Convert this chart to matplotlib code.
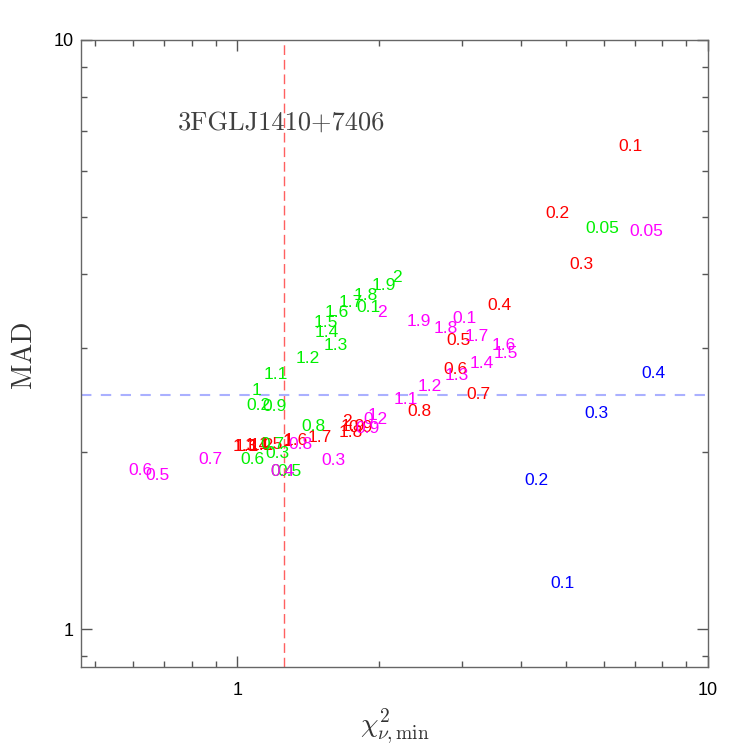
import numpy as np
import matplotlib
matplotlib.use("Agg")
import matplotlib.pyplot as plt
from matplotlib.ticker import FixedLocator, FixedFormatter, NullFormatter

# labelled points (chi2_min, MAD) for each run, label = parameter value
red_labels = ["0.1", "0.2", "0.3", "0.4", "0.5", "0.6", "0.7", "0.8", "0.9", "1",
              "1.1", "1.2", "1.3", "1.4", "1.5", "1.6", "1.7", "1.8", "1.9", "2"]
red_x = [6.86, 4.80, 5.39, 3.61, 2.95, 2.91, 3.26, 2.44, 1.83, 1.28,
         1.05, 1.13, 1.04, 1.10, 1.18, 1.33, 1.50, 1.74, 1.76, 1.71]
red_y = [6.63, 5.10, 4.19, 3.56, 3.11, 2.77, 2.52, 2.35, 2.21, 2.09,
         2.05, 2.06, 2.05, 2.06, 2.07, 2.10, 2.13, 2.17, 2.22, 2.26]

green_labels = ["0.05", "0.1", "0.2", "0.3", "0.4", "0.5", "0.6", "0.7", "0.8", "0.9", "1",
                "1.1", "1.2", "1.3", "1.4", "1.5", "1.6", "1.7", "1.8", "1.9", "2"]
green_x = [5.95, 1.90, 1.11, 1.22, 1.25, 1.29, 1.08, 1.19, 1.45, 1.20, 1.10,
           1.21, 1.41, 1.62, 1.55, 1.54, 1.63, 1.74, 1.88, 2.05, 2.18]
green_y = [4.81, 3.53, 2.41, 2.00, 1.86, 1.86, 1.95, 2.07, 2.22, 2.40, 2.56,
           2.72, 2.90, 3.05, 3.20, 3.33, 3.47, 3.60, 3.71, 3.85, 3.97]

magenta_labels = ["0.05", "0.1", "0.2", "0.3", "0.4", "0.5", "0.6", "0.7", "0.8", "0.9", "1",
                  "1.1", "1.2", "1.3", "1.4", "1.5", "1.6", "1.7", "1.8", "1.9", "2"]
magenta_x = [7.38, 3.04, 1.97, 1.60, 1.25, 0.679, 0.622, 0.876, 1.36, 1.89, 1.94,
             2.28, 2.57, 2.92, 3.31, 3.72, 3.68, 3.22, 2.77, 2.43, 2.03]
magenta_y = [4.75, 3.39, 2.28, 1.94, 1.86, 1.83, 1.87, 1.95, 2.07, 2.20, 2.32,
             2.47, 2.60, 2.71, 2.84, 2.95, 3.05, 3.16, 3.26, 3.35, 3.46]

blue_labels = ["0.1", "0.2", "0.3", "0.4"]
blue_x = [4.92, 4.33, 5.80, 7.67]
blue_y = [1.20, 1.80, 2.34, 2.73]

chi2_cut = 1.26
mad_cut = 2.5
source = "3FGLJ1410+7406"

plt.rcParams["mathtext.fontset"] = "cm"

fig = plt.figure(figsize=(7.47, 7.47), dpi=100)
ax = fig.add_axes([81/747, 80/747, 627/747, 627/747])
ax.set_xscale("log")
ax.set_yscale("log")
ax.set_xlim(0.466, 10)
ax.set_ylim(0.862, 10)

series = [
    (red_labels, red_x, red_y, "#ff0000"),
    (green_labels, green_x, green_y, "#00f000"),
    (magenta_labels, magenta_x, magenta_y, "#ff00ff"),
    (blue_labels, blue_x, blue_y, "#0000ff"),
]
for labels, xs, ys, col in series:
    for lab, x, y in zip(labels, xs, ys):
        ax.text(x, y, lab, color=col, fontsize=12.5, family="Liberation Sans",
                ha="center", va="center_baseline")

ax.axvline(chi2_cut, color="#ff6060", lw=1, dashes=(7, 3.5))
ax.axhline(mad_cut, color="#aab0ff", lw=1.5, dashes=(5, 4.5))

ax.text(0.32, 0.868, source, transform=ax.transAxes, family="cmr10",
        fontsize=19, color="#404040", ha="center", va="center")

# ticks
for axis in (ax.xaxis, ax.yaxis):
    axis.set_major_locator(FixedLocator([1, 10]))
    axis.set_major_formatter(FixedFormatter(["1", "10"]))
    axis.set_minor_formatter(NullFormatter())
ax.xaxis.set_minor_locator(FixedLocator([0.5, 0.6, 0.7, 0.8, 0.9, 2, 3, 4, 5, 6, 7, 8, 9]))
ax.yaxis.set_minor_locator(FixedLocator([0.9, 2, 3, 4, 5, 6, 7, 8, 9]))

ax.tick_params(which="both", direction="in", top=True, right=True, colors="#555555")
ax.tick_params(which="major", length=8, width=1)
ax.tick_params(which="minor", length=4.5, width=1)
ax.tick_params(axis="x", which="major", pad=11, labelsize=13, labelcolor="black")
ax.tick_params(axis="y", which="major", pad=5, labelsize=13, labelcolor="black")
for lab in ax.get_xticklabels() + ax.get_yticklabels():
    lab.set_family("Liberation Sans")
for sp in ax.spines.values():
    sp.set_color("#666666")
    sp.set_linewidth(1)

fig.text(394.5/747, 1 - 726/747, r"$\chi^2_{\nu,\mathrm{min}}$", fontsize=20,
         ha="center", va="center", color="#333333")
fig.text(24/747, 1 - 354/747, "MAD", family="cmr10", fontsize=20, rotation=90,
         ha="center", va="center", color="#333333")

fig.savefig("out.png", dpi=100)
